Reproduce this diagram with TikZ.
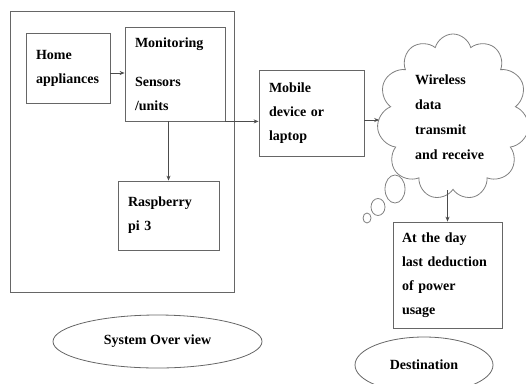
\documentclass[tikz,border=0pt]{standalone}
\usepackage{fontspec}
\setmainfont{Liberation Serif}
\usetikzlibrary{arrows.meta,shapes.geometric,shapes.symbols}
\begin{document}
\begin{tikzpicture}[x=1pt, y=-1pt,
    box/.style={draw=black!60, line width=0.8pt, align=left,
      inner xsep=10pt, inner ysep=0pt,
      font=\fontsize{14}{24}\selectfont\bfseries},
    oval/.style={ellipse, draw=black!60, line width=0.8pt,
      inner sep=0pt, font=\fontsize{14}{17}\selectfont\bfseries},
    bubble/.style={ellipse, draw=black!50, line width=0.8pt, inner sep=0pt}]
  \clip (0,0) rectangle (526,383);

  % left block
  \node [draw=black!60, line width=0.8pt, minimum width=224pt,
    minimum height=281pt] (sys) at (122,151.5) {};
  \begin{scope}[every node/.style={box}]
    \node [text width=64pt, minimum height=70pt] (home) at (68,68)
    {Home\\appliances};
    \node [text width=80pt, minimum height=94pt] (mon) at (175,74)
    {Monitoring\\[15pt]Sensors\\/units};
    \node [text width=81pt, minimum height=69pt] (rasp) at (168.5,215.5)
    {Raspberry\\pi 3};
    \node [text width=85pt, minimum height=86pt] (mob) at (311.5,113)
    {Mobile\\device or\\laptop};
    \node [text width=91pt, minimum height=106pt, inner xsep=9pt] (dest)
    at (447.5,275) {At the day\\last deduction\\of power\\usage};
  \end{scope}

  % cloud and bubbles
  \node [cloud, cloud puffs=11, draw=black!50, line width=0.8pt,
    minimum width=140pt, minimum height=166pt, align=left,
    text width=76pt, font=\fontsize{14}{25}\selectfont\bfseries]
  (air) at (453,117) {Wireless\\data\\transmit\\and receive};
  \foreach \x/\y/\w/\h [count=\i] in {395/189/20/28, 378/207/14/17,
    367/218/8/10}
  \node [bubble, minimum width=\w pt, minimum height=\h pt] (bub\i)
  at (\x,\y) {};

  % ovals
  \node [oval, minimum width=209pt, minimum height=53pt] (sysov)
  at (157.5,341.5) {System Over view};
  \node [oval, minimum width=138pt, minimum height=56pt] (destov)
  at (424,365) {Destination};

  \begin{scope}[-{Stealth[length=5pt,width=4pt]}, draw=black!70,
    line width=0.8pt]
    \draw ([yshift=-5pt]home.east) -- ([yshift=-5pt]home.east -| mon.west);
    \draw (rasp.north |- mon.south) -- (rasp.north);
    \draw (mon.south east) -- (mon.south east -| mob.west);
    \draw ([yshift=-7pt]mob.east) -- ([yshift=-7pt]mob.east -| air.west);
    \draw (dest.north |- air.south) -- (dest.north);
  \end{scope}
\end{tikzpicture}
\end{document}
